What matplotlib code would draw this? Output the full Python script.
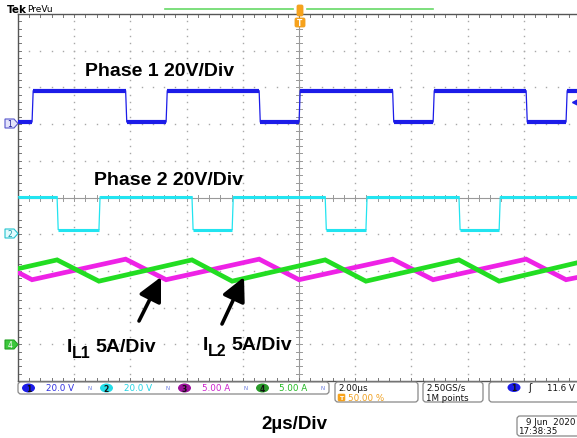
import matplotlib
matplotlib.use('Agg')
import matplotlib.pyplot as plt
from matplotlib.patches import FancyBboxPatch, Polygon, Ellipse
from matplotlib.lines import Line2D

W, H = 577, 439
fig = plt.figure(figsize=(W / 100, H / 100), dpi=100)
fig.patch.set_facecolor('white')

# ---------------- data ----------------
T_END = 19.89                      # us visible (10 div x 2 us, right edge cropped)
ch1_edges = [0.50, 3.83, 5.27, 8.58, 10.00, 13.33, 14.77, 18.08, 19.50]   # us
ch1_levels = [1.1, 18.2]           # V  (low, high)
ch1_start_high = False
ch2_edges = [1.39, 2.88, 6.19, 7.62, 10.93, 12.38, 15.69, 17.12]          # us
ch2_levels = [2.5, 20.4]           # V
ch2_start_high = True
ch3_t = [0.0, 0.50, 3.83, 5.27, 8.58, 10.00, 13.33, 14.77, 18.08, 19.50, 19.89]
ch3_i = [9.8, 8.8, 11.6, 8.8, 11.6, 8.8, 11.6, 8.8, 11.6, 8.8, 9.1]        # A
ch4_t = [0.0, 1.39, 2.88, 6.19, 7.62, 10.93, 12.38, 15.69, 17.12, 19.89]
ch4_i = [10.3, 11.5, 8.6, 11.5, 8.6, 11.5, 8.6, 11.5, 8.6, 11.1]           # A

ch_offsets = {1: 7.0, 2: 4.0, 3: 1.0, 4: 1.0}     # divisions
ch_scales = {1: 20.0, 2: 20.0, 3: 5.0, 4: 5.0}    # units / div
ch_colors = {1: '#1c1ce8', 2: '#22e4f0', 3: '#ee22e6', 4: '#22dd22'}

RISE = 0.04  # us, visual edge slope

ax = fig.add_axes([18 / W, (H - 382) / H, (W - 18) / W, 367 / H])
ax.set_xlim(0, T_END)
ax.set_ylim(0, 10)
ax.set_xticks([])
ax.set_yticks([])
for s in ['right']:
    ax.spines[s].set_visible(False)
for s in ['top', 'left', 'bottom']:
    ax.spines[s].set_color('#555555')
    ax.spines[s].set_linewidth(1.0)

# ---------------- graticule ----------------
dot_c = '#a8a8a8'
for k in range(1, 10):
    if k == 5:
        continue
    xs = [2 * k] * 51
    ys = [j / 5 for j in range(51)]
    ax.plot(xs, ys, ls='none', marker='s', ms=1.0, mew=0, color=dot_c, zorder=1)
for k in range(1, 10):
    if k == 5:
        continue
    xs = [m * 0.4 for m in range(50)]
    ys = [k] * 50
    ax.plot(xs, ys, ls='none', marker='s', ms=1.0, mew=0, color=dot_c, zorder=1)
# centre cross
ax.axvline(10, color='#999999', lw=0.8, zorder=1)
ax.axhline(5, color='#999999', lw=0.8, zorder=1)
dx = 3 * 20 / 562
dy = 3 / 36.7
for j in range(51):
    y = j / 5
    ax.plot([10 - dx, 10 + dx], [y, y], color='#999999', lw=0.7, zorder=1)
for m in range(50):
    x = m * 0.4
    ax.plot([x, x], [5 - dy, 5 + dy], color='#999999', lw=0.7, zorder=1)
    ax.plot([x, x], [10, 10 - dy], color='#777777', lw=0.7, zorder=1)
    ax.plot([x, x], [0, dy], color='#777777', lw=0.7, zorder=1)
for j in range(51):
    y = j / 5
    ax.plot([0, dx], [y, y], color='#777777', lw=0.7, zorder=1)


# ---------------- traces ----------------
def square(edges, levels, start_high):
    xs, ys = [0.0], []
    cur = 1 if start_high else 0
    ys.append(levels[cur])
    flats = []
    seg_start = 0.0
    for e in edges:
        xs += [e, e + RISE]
        ys += [levels[cur], levels[1 - cur]]
        flats.append(([seg_start, e], [levels[cur]] * 2))
        cur = 1 - cur
        seg_start = e + RISE
    xs.append(T_END)
    ys.append(levels[cur])
    flats.append(([seg_start, T_END], [levels[cur]] * 2))
    return xs, ys, flats


def to_div(vals, ch):
    return [ch_offsets[ch] + v / ch_scales[ch] for v in vals]


for ch, edges, levels, sh, lw in [(1, ch1_edges, ch1_levels, ch1_start_high, 3.0),
                                  (2, ch2_edges, ch2_levels, ch2_start_high, 2.2)]:
    xs, ys, flats = square(edges, levels, sh)
    ax.plot(xs, to_div(ys, ch), color=ch_colors[ch], lw=0.9, zorder=3)
    for fx, fy in flats:
        ax.plot(fx, to_div(fy, ch), color=ch_colors[ch], lw=lw,
                solid_capstyle='butt', zorder=3)

ax.plot(ch3_t, to_div(ch3_i, 3), color=ch_colors[3], lw=3.4, zorder=3,
        solid_joinstyle='miter')
ax.plot(ch4_t, to_div(ch4_i, 4), color=ch_colors[4], lw=3.4, zorder=4,
        solid_joinstyle='miter')


# ---------------- helpers in pixel space ----------------
def P(x, y):
    return (x / W, 1 - y / H)


def ptext(x, y, s, **kw):
    fig.text(x / W, 1 - y / H, s, **kw)


def rbox(x0, y0, x1, y1, ec='#888888', fc='white', lw=0.9, r=3):
    p = FancyBboxPatch(P(x0, y1), (x1 - x0) / W, (y1 - y0) / H,
                       boxstyle='round,pad=0,rounding_size=%f' % (r / W),
                       transform=fig.transFigure, ec=ec, fc=fc, lw=lw,
                       clip_on=False, mutation_aspect=W / H)
    fig.patches.append(p)


def ell(cx, cy, w, h, fc):
    e = Ellipse(P(cx, cy), w / W, h / H, transform=fig.transFigure, fc=fc,
                ec='none', clip_on=False)
    fig.patches.append(e)


# top header
ptext(7, 10, 'Tek', fontsize=7.5, fontweight='bold', va='center', ha='left',
      family='DejaVu Sans')
ptext(27, 10, 'PreVu', fontsize=6.5, va='center', ha='left', family='DejaVu Sans')
fig.lines.append(Line2D([165 / W, 293 / W], [1 - 10 / H] * 2, color='#66d966', lw=1.2,
                        transform=fig.transFigure))
fig.lines.append(Line2D([307 / W, 433 / W], [1 - 10 / H] * 2, color='#66d966', lw=1.2,
                        transform=fig.transFigure))
rbox(297, 6, 303, 17, ec='#f0a020', fc='#f7a21b', lw=0.6, r=1.5)
rbox(295, 19, 305, 28, ec='#f0a020', fc='#f7a21b', lw=0.6, r=1.5)
ptext(300, 23.5, 'T', fontsize=5.5, color='white', fontweight='bold', ha='center',
      va='center')

# channel markers at left
poly1 = Polygon([P(5, 120), P(14, 120), P(18, 124.5), P(14, 129), P(5, 129)],
                closed=True, transform=fig.transFigure, fc='#e4e4fb', ec='#5555cc',
                lw=0.8)
fig.patches.append(poly1)
ptext(10, 124.8, '1', fontsize=5.5, color='#1c1c9c', ha='center', va='center')
poly2 = Polygon([P(5, 230), P(14, 230), P(18, 234.5), P(14, 239), P(5, 239)],
                closed=True, transform=fig.transFigure, fc='#e2fbfd', ec='#22c4d0',
                lw=0.8)
fig.patches.append(poly2)
ptext(10, 234.8, '2', fontsize=5.5, color='#1a9aa8', ha='center', va='center')
poly4 = Polygon([P(5, 341), P(14, 341), P(18, 345.5), P(14, 350), P(5, 350)],
                closed=True, transform=fig.transFigure, fc='#3cc83c', ec='#22a022',
                lw=0.8)
fig.patches.append(poly4)
ptext(10, 345.8, '4', fontsize=5.5, color='white', ha='center', va='center')
# trigger level marker at right
ax.plot([T_END - 0.08], [ch_offsets[1] + 12.0 / ch_scales[1] * 1.0], marker='<',
        ms=5, color='#1c1ce8', clip_on=False, zorder=5)

# annotations
bold = dict(family='Liberation Sans', fontweight='bold', color='black')
ptext(160, 72, 'Phase 1 20V/Div', fontsize=14, ha='center', va='center', **bold)
ptext(168, 181, 'Phase 2 20V/Div', fontsize=14, ha='center', va='center', **bold)
ptext(67, 352, 'I', fontsize=14, ha='left', va='baseline', **bold)
ptext(72, 358, 'L1', fontsize=11.5, ha='left', va='baseline', **bold)
ptext(95, 352, '5A/Div', fontsize=14, ha='left', va='baseline', **bold)
ptext(203, 350, 'I', fontsize=14, ha='left', va='baseline', **bold)
ptext(208, 356, 'L2', fontsize=11.5, ha='left', va='baseline', **bold)
ptext(231, 350, '5A/Div', fontsize=14, ha='left', va='baseline', **bold)
ptext(294, 425, '2\u00b5s/Div', fontsize=13.5, ha='center', va='center', **bold)

for tail, tip in [((139, 322), (161, 278)), ((222, 325), (244, 278))]:
    fig.patches.append(matplotlib.patches.FancyArrowPatch(
        P(*tail), P(*tip), transform=fig.transFigure,
        arrowstyle='-|>,head_length=9,head_width=4.5', lw=2.6, color='black',
        mutation_scale=1.6, shrinkA=0, shrinkB=0))

# ---------------- status bar ----------------
ui = dict(family='DejaVu Sans', fontsize=6.3, va='center', ha='left')
rbox(18, 383, 329, 395)
chan_items = [
    (28.5, '1', '#1c1ce8', '20.0 V', '#3030e0', 46, 90),
    (106.5, '2', '#22dde8', '20.0 V', '#22d4e4', 124, 168),
    (184.5, '3', '#9c119c', '5.00 A', '#cc22cc', 202, 246),
    (262.5, '4', '#2a9a2a', '5.00 A', '#22b822', 279, 323),
]
for cx, lab, ec, txt, tc, tx, icx in chan_items:
    ell(cx, 389, 13, 9, ec)
    ptext(cx, 389.3, lab, fontsize=5.5, color='#111111', ha='center', va='center',
          family='DejaVu Sans', fontweight='bold')
    ptext(tx, 389, txt, color=tc, **ui)
    ptext(icx, 388.5, 'N', color='#6677dd', family='DejaVu Sans', fontsize=4,
          ha='center', va='center')

rbox(335, 383, 418, 403)
ptext(338, 388.5, '2.00\u00b5s', color='#111111', **ui)
rbox(338, 395, 345, 402, ec='#f7a21b', fc='#f7a21b', lw=0.4, r=1)
ptext(341.5, 398.5, 'T', fontsize=4.5, color='white', ha='center', va='center',
      fontweight='bold')
ptext(348, 398.5, '50.00 %', color='#f0a020', **ui)

rbox(423, 383, 483, 403)
ptext(426, 388.5, '2.50GS/s', color='#111111', **ui)
ptext(426, 398.5, '1M points', color='#111111', **ui)

rbox(489, 383, 590, 403)
ell(514, 388.5, 13, 9, '#1c1ce8')
ptext(514, 388.8, '1', fontsize=5.5, color='#111111', ha='center', va='center',
      family='DejaVu Sans', fontweight='bold')
ptext(530, 388.5, '\u0283', color='#111111', family='DejaVu Sans', fontsize=7,
      ha='center', va='center')
ptext(547, 388.5, '11.6 V', color='#111111', **ui)

rbox(517, 417, 590, 437)
ptext(526, 423, '9 Jun  2020', color='#111111', **ui)
ptext(518, 432, '17:38:35', color='#111111', **ui)

fig.savefig('out.png', dpi=100, facecolor='white')
